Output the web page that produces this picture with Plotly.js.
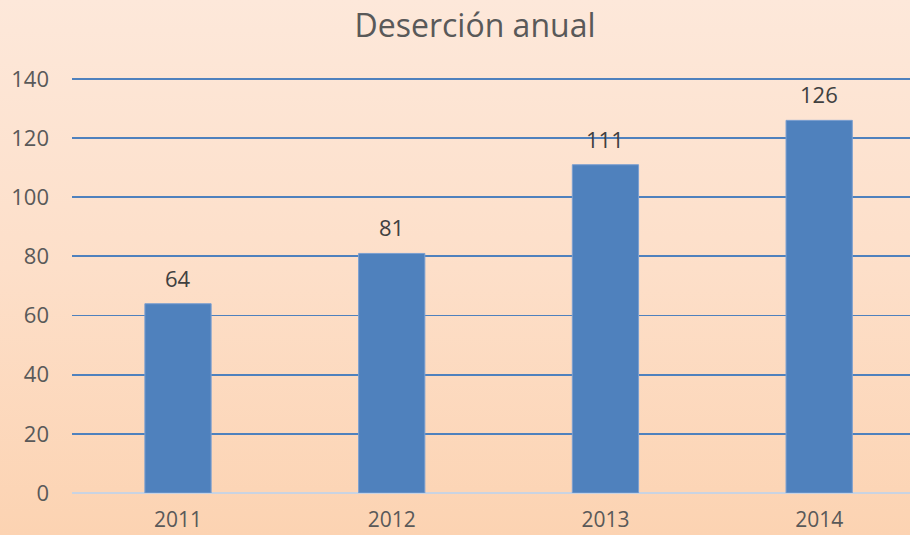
<!DOCTYPE html>
<html>
<head>
<meta charset="utf-8">
<script src="https://cdn.plot.ly/plotly-3.0.1.min.js"></script>
<style>
html,body{margin:0;padding:0;}
#chart{width:910px;height:535px;background:linear-gradient(to bottom,#fde8da 0%,#fddfc9 50%,#fcd3b2 100%);}
</style>
</head>
<body>
<div id="chart"></div>
<script>
const years = ['2011', '2012', '2013', '2014'];
const desercion = [64, 81, 111, 126];
const yTicks = [0, 20, 40, 60, 80, 100, 120, 140];

const trace = {
  type: 'bar',
  x: years,
  y: desercion,
  width: 0.31,
  marker: {color: '#4f81bd', line: {color: '#7b9fd0', width: 1}},
  hoverinfo: 'x+y'
};

const annotations = years.map((yr, i) => ({
  x: i, y: desercion[i], xref: 'x', yref: 'y', text: String(desercion[i]),
  showarrow: false, yshift: 26,
  font: {family: 'Open Sans', size: 22, color: '#404040'}
}));

const layout = {
  width: 910, height: 535,
  paper_bgcolor: 'rgba(0,0,0,0)',
  plot_bgcolor: 'rgba(0,0,0,0)',
  margin: {l: 72, r: 0, t: 76, b: 42},
  title: {text: 'Deserción anual', x: 0.522, xanchor: 'center', y: 0.951, yanchor: 'middle',
          font: {family: 'Open Sans', size: 32, color: '#595959'}},
  showlegend: false,
  xaxis: {
    type: 'category', range: [-0.496, 3.425],
    showgrid: false, zeroline: false, showline: false,
    ticks: '', ticklabelstandoff: 12,
    tickfont: {family: 'Open Sans', size: 21, color: '#595959'}
  },
  yaxis: {
    range: [0, 141], tickvals: yTicks,
    showgrid: true, gridcolor: '#4f81bd', gridwidth: 1.8,
    zeroline: true, zerolinecolor: '#c9d3e2', zerolinewidth: 2,
    showline: false, ticks: '', ticklabelstandoff: 22,
    tickfont: {family: 'Open Sans', size: 22, color: '#595959'}
  },
  annotations: annotations,
  bargap: 0.69
};

Plotly.newPlot('chart', [trace], layout, {displayModeBar: false, staticPlot: true});
</script>
</body>
</html>
